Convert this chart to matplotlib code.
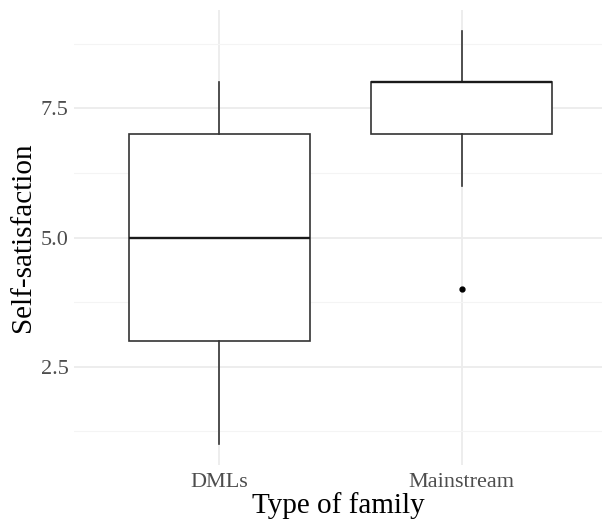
import matplotlib
matplotlib.use("Agg")
import matplotlib.pyplot as plt
import numpy as np

plt.rcParams['font.family'] = ['Liberation Serif', 'DejaVu Serif']

# data
groups = ['DMLs', 'Mainstream']
whisk_lo = [1, 6]
q1 = [3, 7]
med = [5, 8]
q3 = [7, 8]
whisk_hi = [8, 9]
outliers = [[], [4]]

stats = []
for i in range(len(groups)):
    stats.append(dict(label=groups[i], whislo=whisk_lo[i], q1=q1[i], med=med[i],
                      q3=q3[i], whishi=whisk_hi[i], fliers=outliers[i]))

fig = plt.figure(figsize=(6.02, 5.2), dpi=100)
ax = fig.add_axes([74/602, 1 - 465/520, 1 - 74/602, (465 - 10)/520])

ax.bxp(stats, positions=[1, 2], widths=0.75, showcaps=False, patch_artist=True,
       boxprops=dict(facecolor='white', edgecolor='#333333', linewidth=1.2),
       whiskerprops=dict(color='#333333', linewidth=1.2),
       medianprops=dict(color='#1a1a1a', linewidth=1.7),
       flierprops=dict(marker='o', markerfacecolor='black', markeredgecolor='black',
                       markersize=3.5), zorder=3)

ax.set_xlim(0.4, 2 + (602 - 461.7)/242)
ax.set_ylim(0.6, 9.4)
ax.set_yticks([2.5, 5.0, 7.5])
ax.set_yticklabels(['2.5', '5.0', '7.5'])
ax.set_yticks([1.25, 3.75, 6.25, 8.75], minor=True)
ax.set_xticks([1, 2])
ax.set_xticklabels(groups)

ax.grid(True, which='major', color='#ececec', linewidth=1.3, zorder=0)
ax.grid(True, which='minor', axis='y', color='#f4f4f4', linewidth=0.8, zorder=0)
ax.set_axisbelow(True)
for s in ax.spines.values():
    s.set_visible(False)
ax.tick_params(which='both', length=0, labelsize=16, labelcolor='#4d4d4d')
ax.tick_params(axis='x', pad=6)
ax.tick_params(axis='y', pad=4)

ax.set_xlabel('Type of family', fontsize=21, labelpad=0)
ax.set_ylabel('Self-satisfaction', fontsize=21, labelpad=3)

fig.savefig('out.png', dpi=100)
